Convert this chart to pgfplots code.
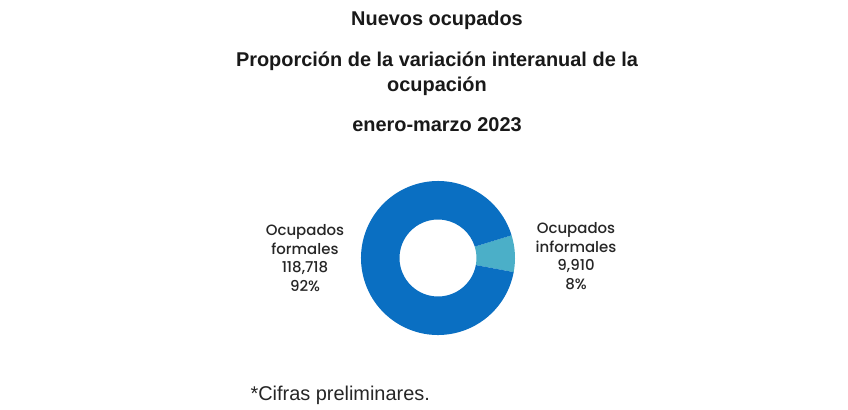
\documentclass[border=0pt]{standalone}
\usepackage{pgfplots}
\pgfplotsset{compat=1.18}
\usepackage{pgfplotstable}
\usepackage{fontspec}
\setmainfont{Liberation Sans}
\newfontfamily\labelfont{Poppins}[UprightFont={* Medium}]
\definecolor{formal}{HTML}{0A6FC2}
\definecolor{informal}{HTML}{4BAFC8}
\pgfplotstableread{
label value
formales 118718
informales 9910
}\datatable
\begin{document}
\begin{tikzpicture}
\useasboundingbox[fill=white] (0,0) rectangle (848bp,-410bp);
\pgfplotstablegetelem{0}{value}\of\datatable \edef\vf{\pgfplotsretval}
\pgfplotstablegetelem{1}{value}\of\datatable \edef\vi{\pgfplotsretval}
\edef\span{\fpeval{360*\vi/(\vf+\vi)}}
\edef\aA{\fpeval{3.3-\span/2}}
\edef\aB{\fpeval{3.3+\span/2}}
\edef\aC{\fpeval{3.3-\span/2+360}}
\node[font=\fontsize{20}{24}\selectfont\bfseries, text=black!90] at (437bp,-20bp) {Nuevos ocupados};
\node[font=\fontsize{20}{24}\selectfont\bfseries, text=black!90] at (437bp,-61bp) {Proporción de la variación interanual de la};
\node[font=\fontsize{20}{24}\selectfont\bfseries, text=black!90] at (437bp,-86bp) {ocupación};
\node[font=\fontsize{20}{24}\selectfont\bfseries, text=black!90] at (437bp,-125bp) {enero-marzo 2023};
\begin{axis}[at={(438bp,-258bp)}, anchor=center, x=1bp, y=1bp,
  xmin=-90, xmax=90, ymin=-90, ymax=90, hide axis, clip=false, scale only axis]
\fill[informal] ([shift={(\aA:77bp)}]axis cs:0,0) arc[start angle=\aA, end angle=\aB, radius=77bp]
  -- ([shift={(\aB:38.5bp)}]axis cs:0,0) arc[start angle=\aB, end angle=\aA, radius=38.5bp] -- cycle;
\fill[formal] ([shift={(\aB:77bp)}]axis cs:0,0) arc[start angle=\aB, end angle=\aC, radius=77bp]
  -- ([shift={(\aC:38.5bp)}]axis cs:0,0) arc[start angle=\aC, end angle=\aB, radius=38.5bp] -- cycle;
\end{axis}
\node[font=\labelfont\fontsize{15}{18.5}\selectfont, align=center, text=black!85] at (305bp,-258bp)
  {Ocupados\\formales\\118,718\\92\%};
\node[font=\labelfont\fontsize{15}{18.5}\selectfont, align=center, text=black!85] at (576bp,-256bp)
  {Ocupados\\informales\\9,910\\8\%};
\node[font=\fontsize{20}{24}\selectfont, text=black!85, anchor=west] at (247bp,-395bp) {*Cifras preliminares.};
\end{tikzpicture}
\end{document}
